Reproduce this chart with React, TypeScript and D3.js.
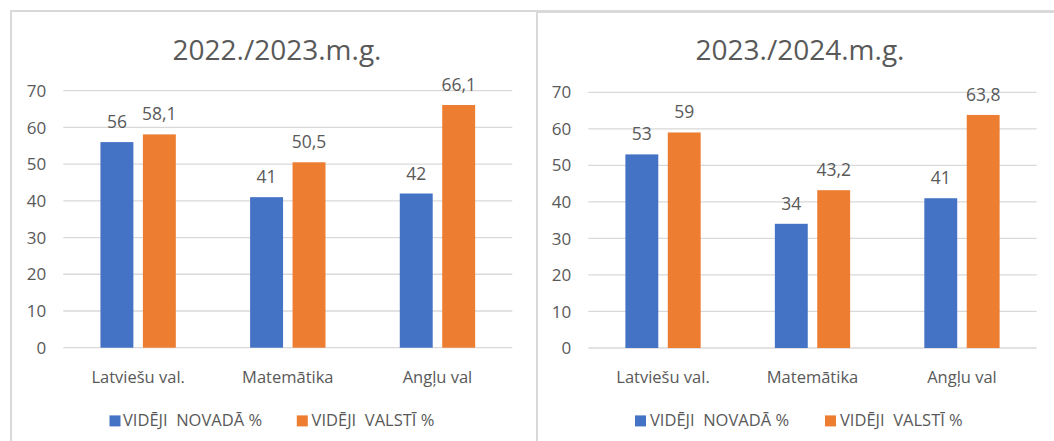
import React from "react";
import * as d3 from "d3";

const categories = ["Latviešu val.", "Matemātika", "Angļu val"];
const seriesNames = ["VIDĒJI  NOVADĀ %", "VIDĒJI  VALSTĪ %"];
const seriesColors = ["#4472C4", "#ED7D31"];
const titles = ["2022./2023.m.g.", "2023./2024.m.g."];
const novads2223 = [56, 41, 42];
const valsts2223 = [58.1, 50.5, 66.1];
const novads2324 = [53, 34, 41];
const valsts2324 = [59, 43.2, 63.8];
const yTicks = [0, 10, 20, 30, 40, 50, 60, 70];

const fmt = (v: number) => String(v).replace(".", ",");

const panels = [
  {
    title: titles[0],
    series: [novads2223, valsts2223],
    box: { x: 11, y: 11 },
    plot: { x0: 63.3, x1: 512.3, yZero: 347.7, yTop: 90.7 },
    titleX: 277,
    legend: { sq1: 109.5, t1: 123, sq2: 296.8, t2: 311.6 },
  },
  {
    title: titles[1],
    series: [novads2324, valsts2324],
    box: { x: 537, y: 12 },
    plot: { x0: 588.3, x1: 1036.7, yZero: 348, yTop: 92.3 },
    titleX: 800,
    legend: { sq1: 635, t1: 650, sq2: 825, t2: 840 },
  },
];

const FONT = "'Open Sans', 'Noto Sans', sans-serif";
const TXT = "#595959";

function Panel({ p }: { p: (typeof panels)[number] }) {
  const x = d3.scaleBand<string>().domain(categories).range([p.plot.x0, p.plot.x1]).paddingInner(0).paddingOuter(0);
  const xs = d3
    .scaleBand<number>()
    .domain([0, 1])
    .range([0, x.bandwidth()])
    .paddingInner(0.224)
    .paddingOuter(0.875);
  const y = d3.scaleLinear().domain([0, 70]).range([p.plot.yZero, p.plot.yTop]);
  return (
    <g>
      <rect x={p.box.x} y={p.box.y} width={1200} height={600} fill="#fff" stroke="#d9d9d9" strokeWidth={2} />
      <text x={p.titleX} y={60} textAnchor="middle" fontSize={28} fill={TXT} fontFamily={FONT}>
        {p.title}
      </text>
      {yTicks.map((t) => (
        <g key={t}>
          <line x1={p.plot.x0} x2={p.plot.x1} y1={y(t)} y2={y(t)} stroke="#d9d9d9" strokeWidth={1.3} />
          <text x={p.plot.x0 - 17} y={y(t)} dy="0.36em" textAnchor="end" fontSize={17} fill={TXT} fontFamily={FONT}>
            {t}
          </text>
        </g>
      ))}
      {categories.map((c, ci) => (
        <g key={c}>
          {p.series.map((s, si) => {
            const bx = (x(c) as number) + (xs(si) as number);
            const top = y(s[ci]);
            return (
              <g key={si}>
                <rect x={bx} y={top} width={xs.bandwidth()} height={y(0) - top} fill={seriesColors[si]} />
                <text
                  x={bx + xs.bandwidth() / 2}
                  y={top - 14}
                  textAnchor="middle"
                  fontSize={17.5}
                  fill={TXT}
                  fontFamily={FONT}
                >
                  {fmt(s[ci])}
                </text>
              </g>
            );
          })}
          <text
            x={(x(c) as number) + x.bandwidth() / 2}
            y={382.6}
            textAnchor="middle"
            fontSize={16.5}
            fill={TXT}
            fontFamily={FONT}
          >
            {c}
          </text>
        </g>
      ))}
      <rect x={p.legend.sq1} y={415.4} width={11} height={11} fill={seriesColors[0]} />
      <text x={p.legend.t1} y={425.7} fontSize={16.5} fill={TXT} fontFamily={FONT} style={{ whiteSpace: "pre" }}>
        {seriesNames[0]}
      </text>
      <rect x={p.legend.sq2} y={415.4} width={11} height={11} fill={seriesColors[1]} />
      <text x={p.legend.t2} y={425.7} fontSize={16.5} fill={TXT} fontFamily={FONT} style={{ whiteSpace: "pre" }}>
        {seriesNames[1]}
      </text>
    </g>
  );
}

export default function App() {
  return (
    <svg
      width={1054}
      height={441}
      viewBox="0 0 1054 441"
      style={{ position: "absolute", left: 0, top: 0, display: "block", background: "#fff" }}
    >
      <rect x={0} y={0} width={1054} height={441} fill="#fff" />
      {panels.map((p, i) => (
        <Panel key={i} p={p} />
      ))}
    </svg>
  );
}
